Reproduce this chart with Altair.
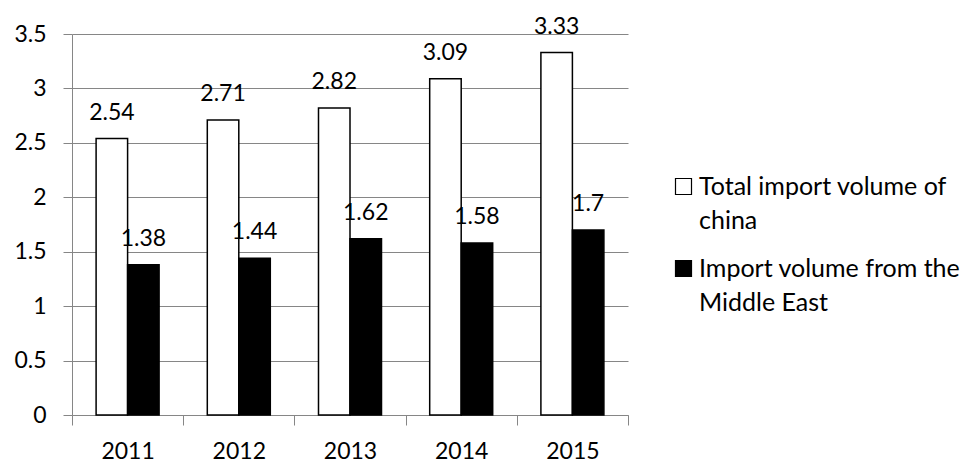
import altair as alt
import pandas as pd

years = ["2011", "2012", "2013", "2014", "2015"]
series_names = ["Total import volume of china", "Import volume from the Middle East"]
total_import = [2.54, 2.71, 2.82, 3.09, 3.33]
middle_east = [1.38, 1.44, 1.62, 1.58, 1.7]
y_ticks = [0, 0.5, 1, 1.5, 2, 2.5, 3, 3.5]

rows = []
for i, yr in enumerate(years):
    rows.append({"year": yr, "series": series_names[0], "value": total_import[i], "label": str(total_import[i])})
    rows.append({"year": yr, "series": series_names[1], "value": middle_east[i], "label": str(middle_east[i])})
df = pd.DataFrame(rows)

FONT = "Lato"
FS = 23
GRAY = "#868686"

base = alt.Chart(df).encode(
    x=alt.X("year:N", sort=years, title=None,
            scale=alt.Scale(paddingInner=0, paddingOuter=0),
            axis=alt.Axis(labelAngle=0, tickBand="extent", tickSize=10, tickColor=GRAY,
                          domainColor=GRAY, labelFont=FONT, labelFontSize=FS, labelColor="black",
                          labelPadding=15, grid=False)),
    xOffset=alt.XOffset("series:N", sort=series_names,
                        scale=alt.Scale(paddingInner=0, paddingOuter=0.765)),
    y=alt.Y("value:Q", title=None, scale=alt.Scale(domain=[0, 3.5], nice=False),
            axis=alt.Axis(values=y_ticks, format=".1~f", tickSize=9, tickColor=GRAY,
                          domainColor=GRAY, gridColor=GRAY, grid=True, labelFont=FONT,
                          labelFontSize=FS, labelColor="black", labelPadding=17)),
)

bars = base.mark_bar(stroke="black", strokeWidth=1.5).encode(
    color=alt.Color("series:N", sort=series_names,
                    scale=alt.Scale(domain=series_names, range=["white", "black"]),
                    legend=alt.Legend(
                        title=None, orient="none", legendX=599, legendY=140,
                        symbolType="square", symbolSize=256, symbolStrokeColor="black",
                        symbolStrokeWidth=1.2, symbolOpacity=1, labelFont=FONT,
                        labelFontSize=25, labelColor="black", labelOffset=3,
                        labelLimit=400, rowPadding=22, padding=0,
                        labelExpr="datum.label == 'Total import volume of china' ? ['Total import volume of', 'china'] : ['Import volume from the', 'Middle East']",
                    ))
)

texts = base.mark_text(baseline="alphabetic", dy=-19, font=FONT, fontSize=FS, color="black").encode(
    text="label:N"
)

chart = (bars + texts).properties(
    width=556, height=381,
    autosize=alt.AutoSizeParams(type="none"),
    padding={"left": 72, "top": 34, "right": 350, "bottom": 47},
).configure(style={"guide-label": {"lineHeight": 34}}).configure_view(stroke=None)

chart.save("out.html", embed_options={"renderer": "svg", "actions": False})
